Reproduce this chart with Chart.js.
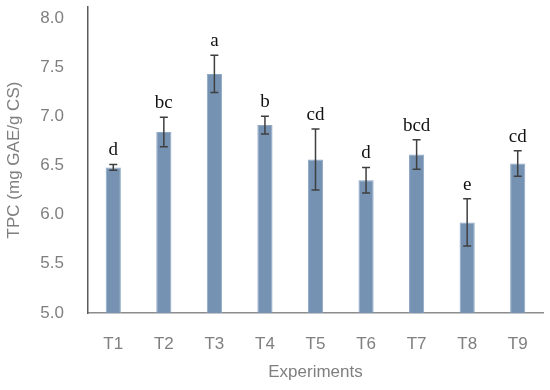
<!DOCTYPE html>
<html>
<head>
<meta charset="utf-8">
<script src="https://cdn.jsdelivr.net/npm/chart.js@4"></script>
<style>
  html, body { margin: 0; padding: 0; background: #fff; }
  #wrap { width: 550px; height: 390px; }
</style>
</head>
<body>
<div id="wrap"><canvas id="grafico"></canvas></div>
<script>
// dados
var experimentos = ['T1', 'T2', 'T3', 'T4', 'T5', 'T6', 'T7', 'T8', 'T9'];
var tpc = [6.48, 6.84, 7.43, 6.91, 6.56, 6.35, 6.61, 5.92, 6.52];
var erros = [0.03, 0.15, 0.19, 0.09, 0.31, 0.13, 0.15, 0.24, 0.13];
var letras = ['d', 'bc', 'a', 'b', 'cd', 'd', 'bcd', 'e', 'cd'];
var ticksY = [5.0, 5.5, 6.0, 6.5, 7.0, 7.5, 8.0];

var cinza = '#7f7f7f';

// barras de erro + letras de significância
var pluginErros = {
    id: 'erros',
    afterDatasetsDraw: function(chart) {
        var ctx = chart.ctx;
        var y = chart.scales.y;
        var meta = chart.getDatasetMeta(0);
        ctx.save();
        ctx.strokeStyle = '#3f3f3f';
        ctx.lineWidth = 1.5;
        meta.data.forEach(function(bar, i) {
            var topo = y.getPixelForValue(tpc[i] + erros[i]);
            var base = y.getPixelForValue(tpc[i] - erros[i]);
            ctx.beginPath();
            ctx.moveTo(bar.x, topo); ctx.lineTo(bar.x, base);
            ctx.moveTo(bar.x - 4, topo); ctx.lineTo(bar.x + 4, topo);
            ctx.moveTo(bar.x - 4, base); ctx.lineTo(bar.x + 4, base);
            ctx.stroke();
            ctx.fillStyle = '#111';
            ctx.font = '19px "Liberation Serif"';
            ctx.textAlign = 'center';
            ctx.textBaseline = 'alphabetic';
            ctx.fillText(letras[i], bar.x, topo - 9);
        });
        ctx.restore();
    }
};

new Chart(document.getElementById('grafico'), {
    type: 'bar',
    data: {
        labels: experimentos,
        datasets: [{
            label: 'TPC',
            data: tpc,
            backgroundColor: '#7592b3',
            borderColor: '#8fa8c4',
            borderWidth: 1,
            categoryPercentage: 1,
            barPercentage: 0.3
        }]
    },
    options: {
        responsive: true,
        maintainAspectRatio: false,
        animation: false,
        layout: { padding: { top: 7, right: 7, left: 0, bottom: 0 } },
        plugins: { legend: { display: false }, tooltip: { enabled: false } },
        scales: {
            x: {
                afterFit: function(axis) { axis.height = 77; },
                grid: { display: false, drawTicks: false },
                border: { display: true, color: '#8c8c8c', width: 1.5 },
                ticks: { color: cinza, font: { family: 'Liberation Sans', size: 17 }, padding: 21 },
                title: { display: true, text: 'Experiments', color: cinza,
                         font: { family: 'Liberation Sans', size: 17 }, padding: { top: 0, bottom: 7 } }
            },
            y: {
                min: 5,
                max: 8.11,
                afterFit: function(axis) {
                    axis.width = 88;
                    axis.paddingTop = 0;
                    axis.paddingBottom = 0;
                },
                afterBuildTicks: function(axis) {
                    axis.ticks = ticksY.map(function(v) { return { value: v }; });
                },
                grid: { display: false, drawTicks: false },
                border: { display: true, color: '#5a5a5a', width: 1.5 },
                ticks: { color: cinza, font: { family: 'Liberation Sans', size: 17 }, padding: 24,
                         callback: function(v) { return Number(v).toFixed(1); } },
                title: { display: true, text: 'TPC (mg GAE/g CS)', color: cinza,
                         font: { family: 'Liberation Sans', size: 17 }, padding: { top: 4, bottom: 0 } }
            }
        }
    },
    plugins: [pluginErros]
});
</script>
</body>
</html>
